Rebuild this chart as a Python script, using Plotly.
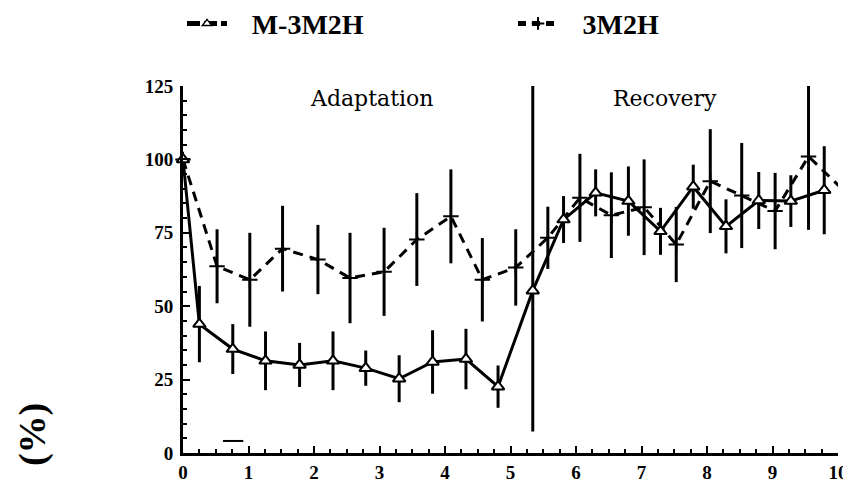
import plotly.graph_objects as go

# ---- data ----
m_x = [0, 0.25, 0.76, 1.26, 1.78, 2.29, 2.79, 3.30, 3.81, 4.32, 4.81, 5.34,
       5.81, 6.30, 6.80, 7.29, 7.79, 8.29, 8.79, 9.28, 9.79]
m_y = [100, 43.9, 35.4, 31.4, 30.0, 31.4, 28.9, 25.3, 31.0, 32.0, 22.6, 55.3,
       79.5, 88.6, 85.8, 75.5, 90.7, 77.2, 86.0, 85.8, 89.5]
m_err_plus = [0, 13, 8.5, 10, 7.5, 10, 6, 8, 10.8, 10.3, 7.2, 70,
              8, 8, 11.8, 8, 7.5, 9.2, 9.7, 8.8, 15]
m_err_minus = [0, 13, 8.5, 10, 7.5, 10, 6, 8, 10.8, 10.3, 7.2, 48,
               8, 8, 11.8, 8, 7.5, 9.2, 9.7, 8.8, 15]

c_x = [0, 0.52, 1.02, 1.52, 2.06, 2.55, 3.07, 3.57, 4.09, 4.57, 5.08, 5.57,
       6.06, 6.54, 7.04, 7.53, 8.05, 8.53, 9.04, 9.55, 10.06]
c_y = [100, 63.6, 59.0, 69.6, 65.9, 59.6, 61.7, 72.7, 80.6, 59.0, 63.2, 73.3,
       86.9, 81.0, 83.7, 71.0, 92.6, 87.7, 82.4, 101.0, 90.0]
c_err = [0, 12.6, 16, 14.6, 11.8, 15.4, 15, 15.8, 16, 14.2, 13, 10.6,
         15, 14.6, 16.3, 12.8, 17.7, 17.9, 13, 25, 15]

series_names = ["M-3M2H", "3M2H"]
phase_labels = ["Adaptation", "Recovery"]
y_title = "(%)"

x_ticks = list(range(0, 11))
y_ticks = [0, 25, 50, 75, 100, 125]

BLACK = "black"
tickfont = dict(family="Liberation Serif", size=19, color=BLACK, weight="bold")
legfont = dict(family="Liberation Serif", size=28, color=BLACK, weight="bold")
GAP = "\u2002\u2009"

fig = go.Figure()

# data traces (legend drawn by the dedicated legend entries below)
fig.add_trace(go.Scatter(
    x=c_x, y=c_y, name=series_names[1], mode="lines+markers",
    line=dict(color=BLACK, width=3, dash="10px,7px"),
    marker=dict(symbol="cross-thin-open", size=11, color=BLACK,
                line=dict(color=BLACK, width=2)),
    error_y=dict(type="data", array=c_err, visible=True,
                 color=BLACK, thickness=3, width=0),
    cliponaxis=False, showlegend=False,
))

fig.add_trace(go.Scatter(
    x=m_x, y=m_y, name=series_names[0], mode="lines+markers",
    line=dict(color=BLACK, width=3),
    marker=dict(symbol="triangle-up", size=11, color="white",
                line=dict(color=BLACK, width=2)),
    error_y=dict(type="data", symmetric=False, array=m_err_plus,
                 arrayminus=m_err_minus, visible=True,
                 color=BLACK, thickness=3, width=0),
    cliponaxis=False, showlegend=False,
))

# legend entries
fig.add_trace(go.Scatter(
    x=[None], y=[None], name=GAP + series_names[0], mode="lines+markers",
    line=dict(color=BLACK, width=5, dash="13px,4px"),
    marker=dict(symbol="triangle-up", size=8, color="white",
                line=dict(color=BLACK, width=1.5)),
    legend="legend",
))
fig.add_trace(go.Scatter(
    x=[None], y=[None], name=GAP + series_names[1], mode="lines+markers",
    line=dict(color=BLACK, width=5, dash="8px,6px"),
    marker=dict(symbol="cross-thin-open", size=9, color=BLACK,
                line=dict(color=BLACK, width=2)),
    legend="legend2",
))

fig.update_layout(
    width=851, height=491,
    margin=dict(l=175, r=21, t=78, b=46, autoexpand=False),
    paper_bgcolor="white", plot_bgcolor="white",
    showlegend=True,
    legend=dict(x=0.2045, y=0.968, xref="container", yref="container",
                xanchor="left", yanchor="middle",
                orientation="h", font=legfont, bgcolor="rgba(0,0,0,0)",
                itemwidth=40),
    legend2=dict(x=0.5934, y=0.968, xref="container", yref="container",
                 xanchor="left", yanchor="middle",
                 orientation="h", font=legfont, bgcolor="rgba(0,0,0,0)",
                 itemwidth=40),
    xaxis=dict(range=[0, 10], tickvals=x_ticks, ticktext=[str(v) for v in x_ticks],
               showline=True, linewidth=3, linecolor=BLACK, mirror=False,
               ticks="inside", ticklen=7, tickwidth=2, tickcolor=BLACK,
               minor=dict(dtick=0.25, ticks="inside", ticklen=4, tickwidth=2,
                          tickcolor=BLACK),
               showgrid=False, zeroline=False, tickfont=tickfont,
               automargin=False),
    yaxis=dict(range=[0, 125], tickvals=y_ticks, ticktext=[str(v) for v in y_ticks],
               showline=True, linewidth=3, linecolor=BLACK, mirror=False,
               ticks="inside", ticklen=7, tickwidth=2, tickcolor=BLACK,
               minor=dict(dtick=5, ticks="inside", ticklen=4, tickwidth=2,
                          tickcolor=BLACK),
               showgrid=False, zeroline=False, tickfont=tickfont,
               automargin=False, ticklabelstandoff=3),
)

fig.add_annotation(x=2.885, y=120.9, xref="x", yref="y", text=phase_labels[0],
                   showarrow=False,
                   font=dict(family="DejaVu Serif", size=22, color=BLACK))
fig.add_annotation(x=7.36, y=120.9, xref="x", yref="y", text=phase_labels[1],
                   showarrow=False,
                   font=dict(family="DejaVu Serif", size=22, color=BLACK))

fig.add_annotation(x=-0.2305, y=0.049, xref="paper", yref="paper",
                   xanchor="center", yanchor="middle", text=y_title,
                   textangle=-90, showarrow=False,
                   font=dict(family="Liberation Serif", size=38, color=BLACK,
                             weight="bold"))

# small stray dash near the bottom of the plot
fig.add_shape(type="line", x0=0.61, x1=0.92, y0=4.1, y1=4.1, xref="x", yref="y",
              line=dict(color=BLACK, width=2))

fig.write_html("out.html")
